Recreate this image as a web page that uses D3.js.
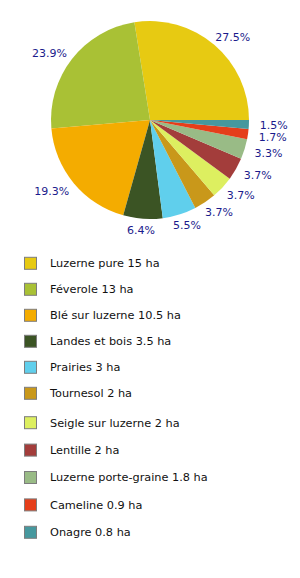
<!DOCTYPE html>
<html>
<head>
<meta charset="utf-8">
<script src="https://cdn.jsdelivr.net/npm/d3@7/dist/d3.min.js"></script>
<style>
  body { margin: 0; background: #fff; }
  text { font-family: "DejaVu Sans", sans-serif; }
</style>
</head>
<body>
<div id="chart"></div>
<script>
// DATA
const categories = [
  "Luzerne pure", "Féverole", "Blé sur luzerne", "Landes et bois", "Prairies",
  "Tournesol", "Seigle sur luzerne", "Lentille", "Luzerne porte-graine",
  "Cameline", "Onagre"
];
const hectares = [15, 13, 10.5, 3.5, 3, 2, 2, 2, 1.8, 0.9, 0.8];
const colors = [
  "#e7ca12", "#a9c135", "#f4ac00", "#3b5424", "#60cfec",
  "#c9981a", "#ddef60", "#a33d3b", "#99bb86", "#e53e1a", "#46989e"
];

const width = 300, height = 578;
const cx = 150, cy = 120, radius = 99, labelR = 110;

const svg = d3.select("#chart")
  .append("svg")
  .attr("width", width)
  .attr("height", height);

const total = d3.sum(hectares);
const fmt = d3.format(".1f");

// PIE - starts at 3 o'clock, counter-clockwise
const pie = d3.pie()
  .sort(null)
  .startAngle(Math.PI / 2)
  .endAngle(Math.PI / 2 - 2 * Math.PI);

const arcs = pie(hectares);
const arc = d3.arc().innerRadius(0).outerRadius(radius);

const g = svg.append("g").attr("transform", `translate(${cx},${cy})`);

g.selectAll("path.slice")
  .data(arcs)
  .enter()
  .append("path")
  .attr("class", "slice")
  .attr("d", arc)
  .attr("fill", (d, i) => colors[i]);

// LABELS
const labels = g.selectAll("text.pct")
  .data(arcs)
  .enter()
  .append("text")
  .attr("class", "pct")
  .attr("font-size", "11px")
  .attr("fill", "#1b1b8c")
  .attr("text-anchor", "middle")
  .attr("dy", "0.4em")
  .text((d) => fmt((d.value / total) * 100) + "%");

const pos = [];
labels.each(function (d) {
  const a = (d.startAngle + d.endAngle) / 2;
  const sx = Math.sin(a), sy = -Math.cos(a);
  const w = this.getComputedTextLength();
  pos.push({ x: labelR * sx + (sx * w) / 2, y: labelR * sy });
});

// right side, lower half: keep the small slices' labels apart
for (let i = pos.length - 2; i >= 0; i--) {
  const a = pos[i], b = pos[i + 1];
  if (a.x > 0 && b.x > 0 && a.y >= b.y && a.y - b.y < 12) {
    a.y = b.y + 12;
  }
}

labels
  .attr("x", (d, i) => pos[i].x)
  .attr("y", (d, i) => pos[i].y);

// LEGEND
const rowY = (i) => (i < 6 ? 263.3 + 26 * i : 422.7 + 27.4 * (i - 6));

const legend = svg.selectAll("g.legend")
  .data(categories)
  .enter()
  .append("g")
  .attr("class", "legend")
  .attr("transform", (d, i) => `translate(0,${rowY(i)})`);

legend.append("rect")
  .attr("x", 24.5)
  .attr("y", -6)
  .attr("width", 12)
  .attr("height", 12)
  .attr("fill", (d, i) => colors[i])
  .attr("stroke", "#7d7d7d")
  .attr("stroke-width", 1);

legend.append("text")
  .attr("x", 50)
  .attr("dy", "0.35em")
  .attr("font-size", "11.3px")
  .attr("fill", "#111")
  .text((d, i) => `${d} ${hectares[i]} ha`);
</script>
</body>
</html>
